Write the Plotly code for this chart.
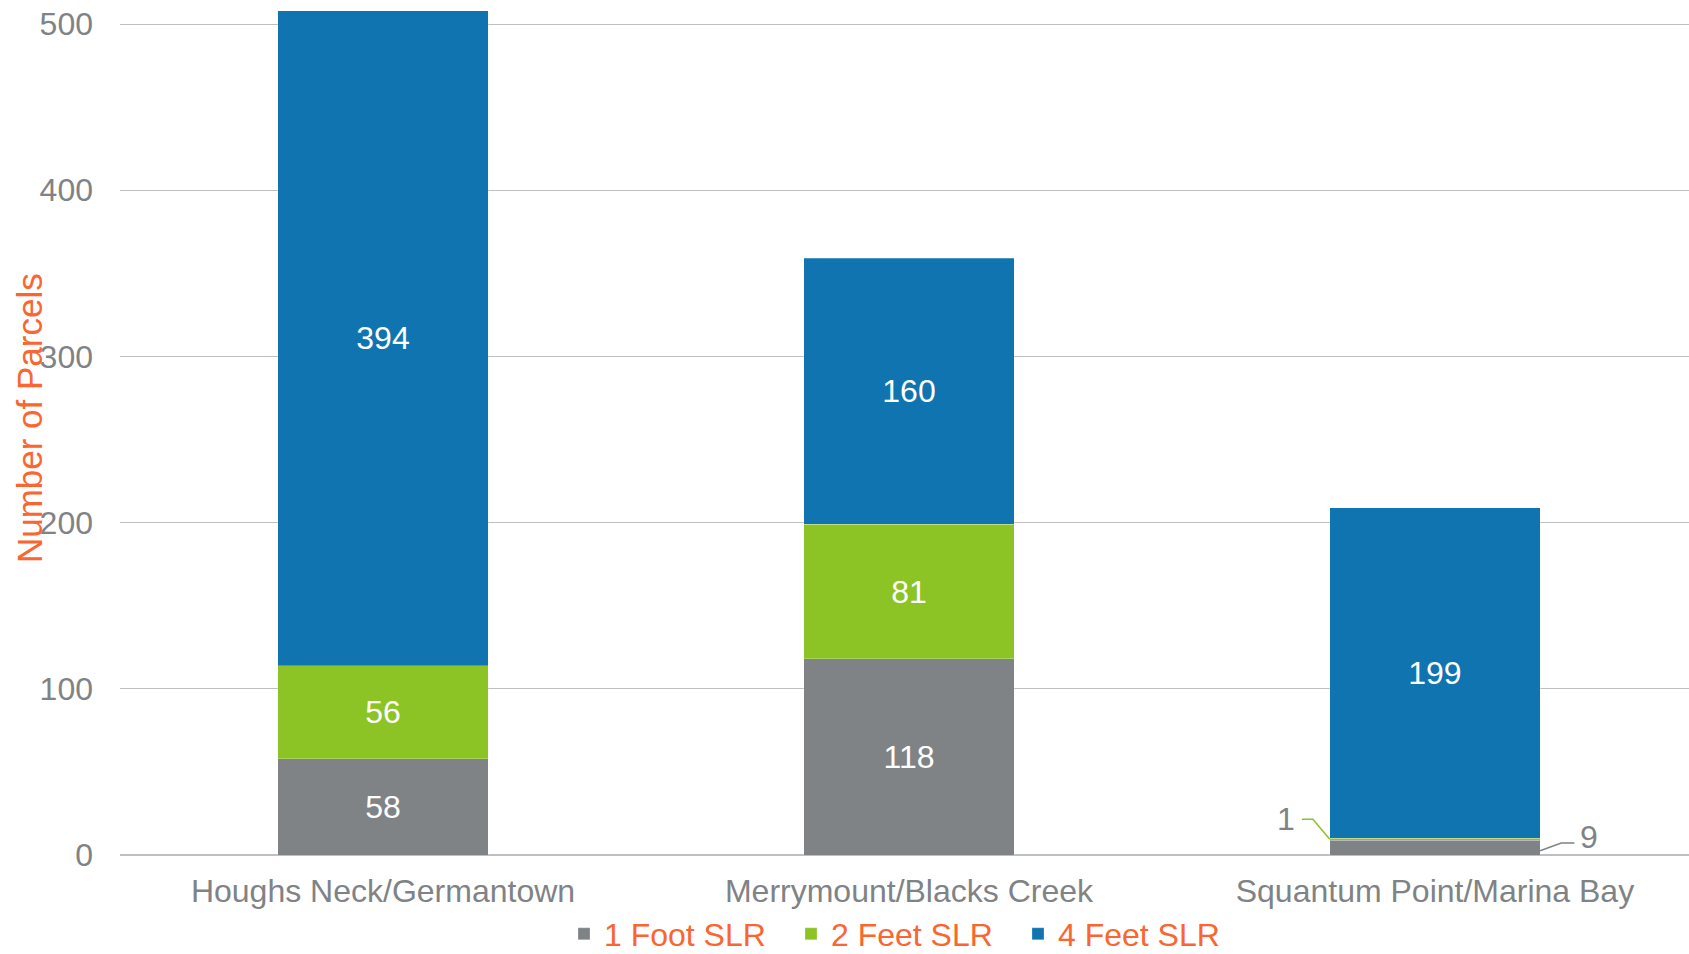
import plotly.graph_objects as go

categories = ["Houghs Neck/Germantown", "Merrymount/Blacks Creek", "Squantum Point/Marina Bay"]
series_names = ["1 Foot SLR", "2 Feet SLR", "4 Feet SLR"]
foot1 = [58, 118, 9]
feet2 = [56, 81, 1]
feet4 = [394, 160, 199]
y_ticks = [0, 100, 200, 300, 400, 500]

colors = ["#7F8386", "#8CC325", "#0F74AF"]
GRAY_TXT = "#7F8386"
ORANGE = "#FB6530"
SANS = "Liberation Sans, Arial, sans-serif"

xs = list(range(len(categories)))
series = [foot1, feet2, feet4]

fig = go.Figure()
for name, vals, col in zip(series_names, series, colors):
    fig.add_trace(go.Bar(
        x=xs, y=vals, name=name, width=0.4,
        marker=dict(color=col, line=dict(color="rgba(255,255,255,0.5)", width=0.5)),
        text=[str(v) if v >= 20 else "" for v in vals],
        textposition="inside", insidetextanchor="middle",
        textfont=dict(color="white", size=32, family=SANS),
        hoverinfo="skip",
    ))

# leader lines for small segments of the last category
i = 2
y_green_mid = foot1[i] + feet2[i] / 2
fig.add_trace(go.Scatter(
    x=[i - 0.2, i - 0.232, i - 0.253], y=[y_green_mid, y_green_mid + 12, y_green_mid + 12],
    mode="lines", line=dict(color=colors[1], width=1.5), showlegend=False, hoverinfo="skip"))
y_gray = foot1[i] * 0.28
fig.add_trace(go.Scatter(
    x=[i + 0.2, i + 0.24, i + 0.265], y=[y_gray, y_gray + 4.7, y_gray + 4.7],
    mode="lines", line=dict(color=GRAY_TXT, width=1.5), showlegend=False, hoverinfo="skip"))

annotations = [
    dict(x=i - 0.262, y=y_green_mid + 12, xref="x", yref="y", text=str(feet2[i]),
         showarrow=False, xanchor="right", yanchor="middle",
         font=dict(color=GRAY_TXT, size=32, family=SANS)),
    dict(x=i + 0.272, y=y_gray + 8.5, xref="x", yref="y", text=str(foot1[i]),
         showarrow=False, xanchor="left", yanchor="middle",
         font=dict(color=GRAY_TXT, size=32, family=SANS)),
    dict(x=-0.058, y=0.511, xref="paper", yref="paper", text="Number of Parcels",
         textangle=-90, showarrow=False, xanchor="center", yanchor="middle",
         font=dict(color=ORANGE, size=35, family=SANS)),
]

fig.update_layout(
    barmode="stack",
    width=1689, height=954,
    margin=dict(l=120, r=0, t=0, b=99, autoexpand=False),
    paper_bgcolor="white", plot_bgcolor="white",
    showlegend=True,
    legend=dict(orientation="h", x=0.5, xanchor="center",
                yref="container", y=0.021, yanchor="middle",
                font=dict(color=ORANGE, size=32, family=SANS),
                itemwidth=30, entrywidth=182, traceorder="normal",
                bgcolor="rgba(0,0,0,0)", borderwidth=0),
    annotations=annotations,
    xaxis=dict(range=[-0.5, 2.483], tickmode="array", tickvals=xs, ticktext=categories,
               showgrid=False, zeroline=False, showline=False, ticks="", automargin=False,
               tickfont=dict(color=GRAY_TXT, size=32, family=SANS), ticklabelstandoff=14),
    yaxis=dict(range=[0, 514.5], tickmode="array", tickvals=y_ticks,
               showgrid=True, gridcolor="#BDBFC1", gridwidth=1.3,
               zeroline=True, zerolinecolor="#BDBFC1", zerolinewidth=1.5,
               showline=False, ticks="", automargin=False,
               tickfont=dict(color=GRAY_TXT, size=32, family=SANS), ticklabelstandoff=26),
)

fig.write_html("out.html", config={"displayModeBar": False},
               post_script="document.body.style.margin='0';document.body.style.overflow='hidden';")
